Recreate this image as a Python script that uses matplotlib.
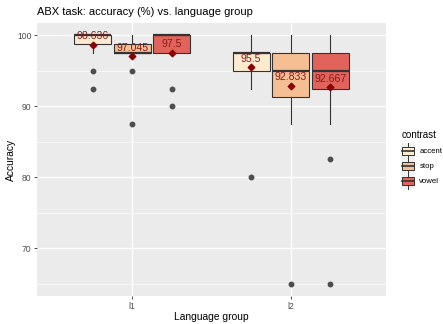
import matplotlib
matplotlib.use('Agg')
import matplotlib.pyplot as plt
from matplotlib.patches import Rectangle, Patch
from matplotlib.lines import Line2D
from matplotlib.legend_handler import HandlerBase

plt.rcParams['font.family'] = ['Liberation Sans', 'DejaVu Sans']

# data: rows = contrast, columns = language group
groups = ['l1', 'l2']
contrasts = ['accent', 'stop', 'vowel']
colors = ['#FDEBD0', '#F6BF93', '#E1635B']

whis_lo = [[97.5, 92.5], [97.5, 87.5], [97.5, 87.5]]
q1 = [[98.75, 95.0], [97.5, 91.25], [97.5, 92.5]]
median = [[100.0, 97.5], [97.5, 95.0], [100.0, 95.0]]
q3 = [[100.0, 97.5], [98.75, 97.5], [100.0, 97.5]]
whis_hi = [[100.0, 100.0], [100.0, 100.0], [100.0, 100.0]]
outliers = [[[95.0, 92.5], [80.0]],
            [[95.0, 87.5], [65.0]],
            [[92.5, 90.0], [82.5, 65.0]]]
means = [[98.636, 95.5], [97.045, 92.833], [97.5, 92.667]]

grey_txt = '#4D4D4D'
line_col = '#333333'


class BoxKey(HandlerBase):
    """legend key looking like a small boxplot"""
    def create_artists(self, legend, orig_handle, xdescent, ydescent,
                       width, height, fontsize, trans):
        fc = orig_handle.get_facecolor()
        bg = Rectangle((-xdescent, -ydescent - 2.5), width, height + 5,
                       facecolor='#F2F2F2', edgecolor='none', transform=trans)
        cx = -xdescent + width / 2
        vl = Line2D([cx, cx], [-ydescent - 2.5, -ydescent + height + 2.5],
                    color=line_col, lw=0.7, transform=trans)
        bw = width * 0.9
        box = Rectangle((cx - bw / 2, -ydescent + height * 0.05), bw, height * 0.9,
                        facecolor=fc, edgecolor=line_col, lw=0.7, transform=trans)
        ml = Line2D([cx - bw / 2, cx + bw / 2], [-ydescent + height / 2] * 2,
                    color=line_col, lw=1.2, transform=trans)
        return [bg, vl, box, ml]


fig = plt.figure(figsize=(4.43, 3.24), dpi=100)
ax = fig.add_axes([37 / 443, 1 - 296 / 324, (386 - 37) / 443, (296 - 23) / 324])
ax.set_facecolor('#EBEBEB')
for s in ax.spines.values():
    s.set_visible(False)

offsets = [-0.25, 0.0, 0.25]
for i, c in enumerate(contrasts):
    stats = []
    pos = []
    for j, g in enumerate(groups):
        stats.append(dict(med=median[i][j], q1=q1[i][j], q3=q3[i][j],
                          whislo=whis_lo[i][j], whishi=whis_hi[i][j],
                          fliers=outliers[i][j]))
        pos.append(j + 1 + offsets[i])
    bp = ax.bxp(stats, positions=pos, widths=0.232, patch_artist=True,
                showcaps=False, manage_ticks=False,
                boxprops=dict(facecolor=colors[i], edgecolor=line_col, lw=0.8),
                medianprops=dict(color=line_col, lw=1.6),
                whiskerprops=dict(color=line_col, lw=0.8),
                flierprops=dict(marker='o', markersize=3.2, markerfacecolor='#4D4D4D',
                                markeredgecolor='#4D4D4D'))
    ax.scatter(pos, means[i], marker='D', s=11, color='#8B0000', zorder=5)
    for x, m in zip(pos, means[i]):
        ax.annotate('{:g}'.format(m), (x, m), xytext=(0, 6.3), textcoords='offset points',
                    ha='center', va='center', fontsize=7.6, color='#8B1A1A', zorder=6)

ax.set_xlim(0.4, 2.6)
ax.set_ylim(63.25, 101.75)
ax.set_xticks([1, 2])
ax.set_xticklabels(groups)
ax.set_yticks([70, 80, 90, 100])
ax.set_yticks([65, 75, 85, 95], minor=True)
ax.set_axisbelow(True)
ax.grid(which='major', color='white', lw=1.0)
ax.grid(which='minor', axis='y', color='white', lw=0.5)
ax.tick_params(which='major', length=2.5, width=0.6, color='#333333',
               labelsize=6.2, labelcolor=grey_txt, pad=1.5)
ax.tick_params(which='minor', length=0)

ax.set_xlabel('Language group', fontsize=7.4, labelpad=1)
ax.set_ylabel('Accuracy', fontsize=7.4, labelpad=1)
ax.set_title('ABX task: accuracy (%) vs. language group', fontsize=8, loc='left',
             x=0, pad=6)

handles = [Patch(facecolor=col, label=c) for c, col in zip(contrasts, colors)]
leg = fig.legend(handles=handles, labels=contrasts, handler_map={Patch: BoxKey()},
                 loc='upper left', bbox_to_anchor=(396 / 443, 1 - 125 / 324),
                 frameon=False, title='contrast', title_fontsize=7.1, fontsize=5.6,
                 handlelength=1.7, handleheight=1.4, handletextpad=0.6,
                 labelspacing=0.75, borderpad=0.2, alignment='left')

fig.savefig('out.png', dpi=100)
